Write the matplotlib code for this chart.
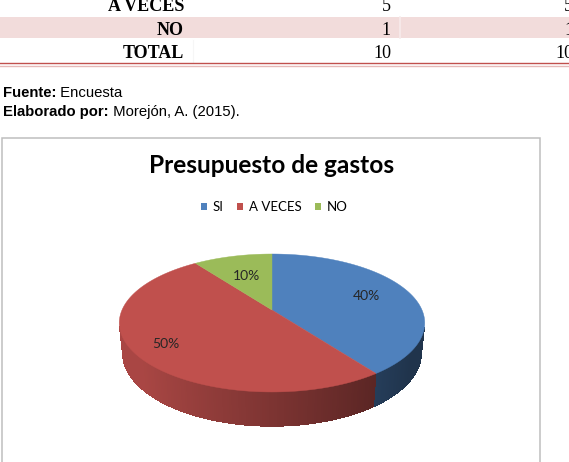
import matplotlib
matplotlib.use("Agg")
import matplotlib.pyplot as plt
from matplotlib.patches import Polygon, Patch
from matplotlib.collections import PolyCollection
import numpy as np

# ── data ────────────────────────────────────────────────────────────────────
ROW_LABELS = ["A VECES", "NO", "TOTAL"]
ROW_FREQ   = ["5", "1", "10"]
ROW_PCT    = ["50%", "10%", "100%"]

CATS   = ["SI", "A VECES", "NO"]
VALUES = [4, 5, 1]
TITLE  = "Presupuesto de gastos"

# ── colours & layout ────────────────────────────────────────────────────────
COLORS    = ["#4F81BD", "#C0504D", "#9BBB59"]
PINK      = "#F2DCDB"
W, H_PX   = 569, 462
SERIF     = "Liberation Serif"
SANS      = "Liberation Sans"
CHART_F   = "Lato"
LABEL_R   = [0.69, 0.80, 0.60]      # radial position of % labels per slice

# 3D pie projection (perspective camera looking down on a unit disc)
ELEV  = np.arcsin(0.4436)
CE, SE = np.cos(ELEV), np.sin(ELEV)
DIST  = 4.76
SCALE = 714
CX, CY = 272, 310
THICK = 0.225

fig = plt.figure(figsize=(W / 100, H_PX / 100), dpi=100)
ax = fig.add_axes([0, 0, 1, 1])
ax.set_xlim(0, W)
ax.set_ylim(H_PX, 0)
ax.axis("off")


def proj(u, v, z=0.0):
    depth = DIST - v * CE - z * SE
    xs = u / depth
    ys = (-v * SE + z * CE) / depth
    return CX + SCALE * xs, CY - SCALE * ys


# ── table fragment ──────────────────────────────────────────────────────────
ax.axhspan(17, 38, color=PINK, lw=0, zorder=0)
ax.plot([400, 400], [17, 38], color="#F7EBEB", lw=1.2, zorder=1)
ax.plot([193, 193], [40, 62], color="#F6F6F6", lw=0.8, zorder=1)
baselines = [11, 35, 58]
for lab, fr, pc, yb in zip(ROW_LABELS, ROW_FREQ, ROW_PCT, baselines):
    ax.text(184, yb, lab, ha="right", va="baseline", family=SERIF,
            fontweight="bold", fontsize=13, color="black")
    ax.text(391, yb, fr, ha="right", va="baseline", family=SERIF,
            fontsize=13, color="black")
    ax.text(597, yb, pc, ha="right", va="baseline", family=SERIF,
            fontsize=13, color="black", clip_on=False)
ax.axhline(63, color="#C0504D", lw=1.0)
ax.axhline(65.5, color="#E6B9B8", lw=1.0)

# ── source lines ────────────────────────────────────────────────────────────
renderer = fig.canvas.get_renderer()
for bold, rest, yb in [("Fuente:", " Encuesta", 97),
                       ("Elaborado por:", " Morejón, A. (2015).", 116)]:
    t = ax.text(3, yb, bold, ha="left", va="baseline", family=SANS,
                fontweight="bold", fontsize=10.7)
    bb = t.get_window_extent(renderer)
    x_end = ax.transData.inverted().transform((bb.x1, bb.y0))[0]
    ax.text(x_end, yb, rest, ha="left", va="baseline", family=SANS,
            fontsize=10.7)

# ── chart frame ─────────────────────────────────────────────────────────────
ax.plot([2, 2, 540, 540], [470, 138, 138, 470], color="#BEBEBE", lw=1.1,
        solid_joinstyle="miter", clip_on=False)

ax.text(272, 173, TITLE, ha="center", va="baseline", family=CHART_F,
        fontweight="bold", fontsize=17.6, color="black")

handles = [Patch(facecolor=c, edgecolor="none", label=l)
           for c, l in zip(COLORS, CATS)]
ax.legend(handles=handles, loc="center", bbox_to_anchor=(274 / W, 1 - 207 / H_PX),
          bbox_transform=fig.transFigure, ncol=3, frameon=False,
          prop={"family": CHART_F, "size": 9.5}, handlelength=0.5,
          handleheight=0.5, handletextpad=0.4, columnspacing=1.0)

# ── 3D pie ──────────────────────────────────────────────────────────────────
fracs = np.array(VALUES, float) / sum(VALUES)
edges = np.concatenate([[0], np.cumsum(fracs)]) * 2 * np.pi
vis_lo = np.arccos(-1 / (DIST * CE))
vis_hi = 2 * np.pi - vis_lo

# side walls
for i, col in enumerate(COLORS):
    a0, a1 = max(edges[i], vis_lo), min(edges[i + 1], vis_hi)
    if a1 <= a0:
        continue
    phis = np.linspace(a0, a1, 150)
    base = np.array(matplotlib.colors.to_rgb(col))
    quads, cols = [], []
    for p0, p1 in zip(phis[:-1], phis[1:]):
        p1e = min(p1 + 0.004, a1)
        t0 = proj(np.sin(p0), -np.cos(p0), 0)
        t1 = proj(np.sin(p1e), -np.cos(p1e), 0)
        b1 = proj(np.sin(p1e), -np.cos(p1e), -THICK)
        b0 = proj(np.sin(p0), -np.cos(p0), -THICK)
        quads.append([t0, t1, b1, b0])
        f = np.clip(0.65 - 0.3 * np.sin((p0 + p1) / 2), 0.40, 0.88)
        cols.append(base * f)
    pc = PolyCollection(quads, facecolors=cols, edgecolors="none",
                        linewidths=0, antialiaseds=False, zorder=3)
    ax.add_collection(pc)

# top faces
for i, col in enumerate(COLORS):
    phis = np.linspace(edges[i], edges[i + 1], 200)
    pts = [proj(0, 0, 0)] + [proj(np.sin(p), -np.cos(p), 0) for p in phis]
    ax.add_patch(Polygon(pts, closed=True, facecolor=col, edgecolor=col,
                         lw=0.3, zorder=4))

# percentage labels
for i, v in enumerate(fracs):
    mid = (edges[i] + edges[i + 1]) / 2
    r = LABEL_R[i]
    x, y = proj(r * np.sin(mid), -r * np.cos(mid), 0)
    ax.text(x, y, f"{v * 100:.0f}%", ha="center", va="center",
            family=CHART_F, fontsize=10, color="#262626", zorder=5)

fig.savefig("out.png", dpi=100)
